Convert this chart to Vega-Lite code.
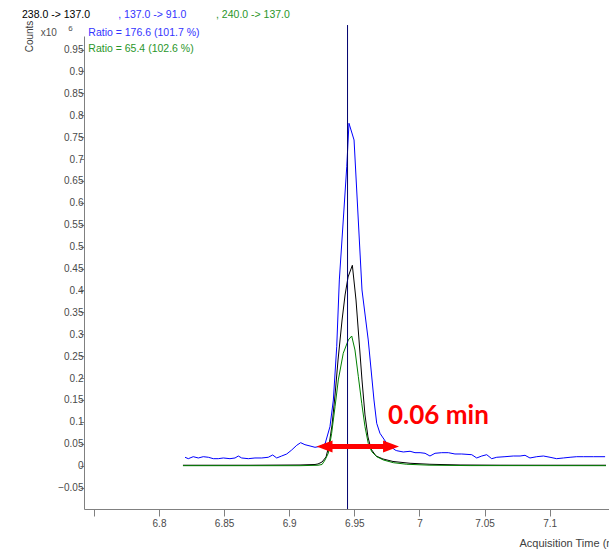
{
  "$schema": "https://vega.github.io/schema/vega-lite/v6.json",
  "autosize": {"type": "none"},
  "padding": {"left": 84, "top": 36, "right": 0, "bottom": 42},
  "width": 525,
  "height": 473,
  "background": "white",
  "config": {
    "view": {"stroke": null},
    "font": "Liberation Sans",
    "axis": {
      "grid": false,
      "domainColor": "#808080",
      "tickColor": "#808080",
      "labelColor": "#4a4a4a",
      "labelFont": "Liberation Sans",
      "labelFontSize": 10,
      "titleFont": "Liberation Sans",
      "titleFontSize": 10,
      "titleFontWeight": "normal",
      "titleColor": "#404040",
      "labelFlush": false,
      "labelOverlap": false
    }
  },
  "datasets": {
    "black": [
      {"t": 6.8184, "v": 0.001}, {"t": 6.8699, "v": 0.001}, {"t": 6.9083, "v": 0.0016},
      {"t": 6.9198, "v": 0.0027}, {"t": 6.9221, "v": 0.0039}, {"t": 6.9252, "v": 0.0084},
      {"t": 6.9283, "v": 0.0199}, {"t": 6.9306, "v": 0.0473}, {"t": 6.9329, "v": 0.0929},
      {"t": 6.9352, "v": 0.1614}, {"t": 6.9375, "v": 0.2413}, {"t": 6.9406, "v": 0.3326},
      {"t": 6.9429, "v": 0.3897}, {"t": 6.9452, "v": 0.4308}, {"t": 6.9485, "v": 0.4575},
      {"t": 6.9513, "v": 0.3783}, {"t": 6.9536, "v": 0.287}, {"t": 6.9559, "v": 0.1957},
      {"t": 6.9582, "v": 0.1158}, {"t": 6.9605, "v": 0.0655}, {"t": 6.9628, "v": 0.0381},
      {"t": 6.9667, "v": 0.0221}, {"t": 6.972, "v": 0.0153}, {"t": 6.9797, "v": 0.0096},
      {"t": 6.9928, "v": 0.0055}, {"t": 7.0081, "v": 0.0032}, {"t": 7.0312, "v": 0.0016},
      {"t": 7.0619, "v": 0.0011}, {"t": 7.1003, "v": 0.001}, {"t": 7.1433, "v": 0.001}
    ],
    "green": [
      {"t": 6.8184, "v": 0.0}, {"t": 6.9083, "v": 0.0}, {"t": 6.9221, "v": 0.001},
      {"t": 6.9252, "v": 0.0027}, {"t": 6.9275, "v": 0.013}, {"t": 6.93, "v": 0.0283},
      {"t": 6.9326, "v": 0.074}, {"t": 6.9352, "v": 0.1347}, {"t": 6.9377, "v": 0.1957},
      {"t": 6.9415, "v": 0.2566}, {"t": 6.9454, "v": 0.287}, {"t": 6.948, "v": 0.2961},
      {"t": 6.9505, "v": 0.2642}, {"t": 6.9531, "v": 0.2032}, {"t": 6.9557, "v": 0.1425},
      {"t": 6.9582, "v": 0.089}, {"t": 6.9607, "v": 0.0511}, {"t": 6.9634, "v": 0.032},
      {"t": 6.9672, "v": 0.0205}, {"t": 6.9723, "v": 0.013}, {"t": 6.98, "v": 0.0068},
      {"t": 6.9903, "v": 0.0032}, {"t": 7.0081, "v": 0.0011}, {"t": 7.0389, "v": 0.0002},
      {"t": 7.1433, "v": 0.0}
    ],
    "blue": [
      {"t": 6.82, "v": 0.0192}, {"t": 6.8225, "v": 0.016}, {"t": 6.8263, "v": 0.0205},
      {"t": 6.8302, "v": 0.0176}, {"t": 6.834, "v": 0.0205}, {"t": 6.8379, "v": 0.0192},
      {"t": 6.8417, "v": 0.016}, {"t": 6.8455, "v": 0.016}, {"t": 6.8494, "v": 0.0176},
      {"t": 6.8545, "v": 0.016}, {"t": 6.8584, "v": 0.0176}, {"t": 6.8609, "v": 0.0221},
      {"t": 6.8635, "v": 0.0176}, {"t": 6.8686, "v": 0.016}, {"t": 6.8737, "v": 0.0176},
      {"t": 6.8789, "v": 0.0176}, {"t": 6.8839, "v": 0.0192}, {"t": 6.8873, "v": 0.0244},
      {"t": 6.8904, "v": 0.0176}, {"t": 6.8942, "v": 0.0221}, {"t": 6.8981, "v": 0.0267},
      {"t": 6.9019, "v": 0.0358}, {"t": 6.9058, "v": 0.0466}, {"t": 6.9088, "v": 0.0525},
      {"t": 6.9121, "v": 0.0479}, {"t": 6.916, "v": 0.045}, {"t": 6.9198, "v": 0.042},
      {"t": 6.9237, "v": 0.044}, {"t": 6.9275, "v": 0.0495}, {"t": 6.9313, "v": 0.089},
      {"t": 6.9339, "v": 0.15}, {"t": 6.9365, "v": 0.2717}, {"t": 6.9385, "v": 0.424},
      {"t": 6.9442, "v": 0.6826}, {"t": 6.9459, "v": 0.7817}, {"t": 6.9498, "v": 0.7436},
      {"t": 6.9559, "v": 0.4011}, {"t": 6.9607, "v": 0.287}, {"t": 6.9651, "v": 0.15},
      {"t": 6.9672, "v": 0.0968}, {"t": 6.9697, "v": 0.074}, {"t": 6.9749, "v": 0.0511},
      {"t": 6.9813, "v": 0.0358}, {"t": 6.9826, "v": 0.0342}, {"t": 6.9876, "v": 0.0313},
      {"t": 6.9928, "v": 0.0329}, {"t": 6.9966, "v": 0.0297}, {"t": 7.0005, "v": 0.0297},
      {"t": 7.0043, "v": 0.0283}, {"t": 7.0081, "v": 0.0221}, {"t": 7.012, "v": 0.0283},
      {"t": 7.0171, "v": 0.0297}, {"t": 7.0222, "v": 0.0297}, {"t": 7.0273, "v": 0.0267},
      {"t": 7.0325, "v": 0.0267}, {"t": 7.0402, "v": 0.0251}, {"t": 7.044, "v": 0.0176},
      {"t": 7.0479, "v": 0.0221}, {"t": 7.0517, "v": 0.0251}, {"t": 7.0555, "v": 0.016},
      {"t": 7.0594, "v": 0.0192}, {"t": 7.0657, "v": 0.0205}, {"t": 7.0721, "v": 0.0221},
      {"t": 7.0773, "v": 0.0221}, {"t": 7.0811, "v": 0.0237}, {"t": 7.0849, "v": 0.0176},
      {"t": 7.0901, "v": 0.0205}, {"t": 7.0952, "v": 0.0221}, {"t": 7.1003, "v": 0.0192},
      {"t": 7.1054, "v": 0.016}, {"t": 7.1105, "v": 0.0176}, {"t": 7.1157, "v": 0.0192},
      {"t": 7.1208, "v": 0.0205}, {"t": 7.1259, "v": 0.0205}, {"t": 7.1336, "v": 0.0205},
      {"t": 7.1426, "v": 0.0205}
    ],
    "apex": [{"t": 6.9448, "v": 1.006, "v2": -0.099}],
    "span": [{"t": 6.9275, "t2": 6.9775, "v": 0.0438}],
    "headLeft": [{"t": 6.9271, "v": 0.0438}],
    "headRight": [{"t": 6.9782, "v": 0.0438}],
    "widthLabel": [{"t": 6.9759, "v": 0.1135, "s": "0.06 min"}],
    "labelsBlack": [{"t": 6.6948, "v": 1.029, "s": "238.0 -> 137.0"}],
    "labelsBlue": [
      {"t": 6.7687, "v": 1.029, "s": ", 137.0 -> 91.0"},
      {"t": 6.7457, "v": 0.9872, "s": "Ratio = 176.6 (101.7 %)"}
    ],
    "labelsGreen": [
      {"t": 6.8438, "v": 1.029, "s": ", 240.0 -> 137.0"},
      {"t": 6.7457, "v": 0.9514, "s": "Ratio = 65.4 (102.6 %)"}
    ],
    "scaleBase": [{"t": 6.7091, "v": 0.9886, "s": "x10"}],
    "scaleExp": [{"t": 6.7303, "v": 0.997, "s": "6"}]
  },
  "encoding": {
    "x": {
      "field": "t",
      "type": "quantitative",
      "scale": {"domain": [6.7424, 7.1456], "nice": false, "zero": false},
      "axis": {
        "values": [6.75, 6.8, 6.85, 6.9, 6.95, 7, 7.05, 7.1],
        "format": "~g",
        "labelExpr": "datum.value < 6.76 ? '' : datum.label",
        "tickSize": 7,
        "labelPadding": 2,
        "title": "Acquisition Time (min)",
        "titleFontSize": 11,
        "titleX": 435,
        "titleY": 34,
        "titleAlign": "left",
        "titleBaseline": "middle"
      }
    },
    "y": {
      "field": "v",
      "type": "quantitative",
      "scale": {"domain": [-0.0989, 0.981], "nice": false, "zero": false},
      "axis": {
        "values": [-0.05, 0, 0.05, 0.1, 0.15, 0.2, 0.25, 0.3, 0.35, 0.4, 0.45, 0.5, 0.55, 0.6, 0.65, 0.7, 0.75, 0.8, 0.85, 0.9, 0.95],
        "format": "~g",
        "tickSize": 4,
        "labelPadding": -3,
        "title": "Counts",
        "titleX": -55,
        "titleY": 0,
        "titleAngle": 270,
        "titleAlign": "center",
        "titleBaseline": "middle"
      }
    }
  },
  "layer": [
    {"data": {"name": "black"}, "mark": {"type": "line", "color": "#000000", "strokeWidth": 1}},
    {"data": {"name": "green"}, "mark": {"type": "line", "color": "#008000", "strokeWidth": 1}},
    {"data": {"name": "blue"}, "mark": {"type": "line", "color": "#0000ff", "strokeWidth": 1}},
    {
      "data": {"name": "apex"},
      "mark": {"type": "rule", "color": "#00006e", "strokeWidth": 1},
      "encoding": {"y2": {"field": "v2"}}
    },
    {
      "data": {"name": "span"},
      "mark": {"type": "rule", "color": "#ff0000", "strokeWidth": 5},
      "encoding": {"x2": {"field": "t2"}}
    },
    {
      "data": {"name": "headLeft"},
      "mark": {"type": "point", "shape": "M-1,0L1,-0.75L1,0.75Z", "size": 256, "filled": true, "color": "#ff0000", "opacity": 1}
    },
    {
      "data": {"name": "headRight"},
      "mark": {"type": "point", "shape": "M1,0L-1,-0.75L-1,0.75Z", "size": 256, "filled": true, "color": "#ff0000", "opacity": 1}
    },
    {
      "data": {"name": "widthLabel"},
      "mark": {"type": "text", "align": "left", "baseline": "middle", "font": "Lato", "fontWeight": "bold", "fontSize": 26, "color": "#ff0000"},
      "encoding": {"text": {"field": "s"}}
    },
    {
      "data": {"name": "labelsBlack"},
      "mark": {"type": "text", "align": "left", "baseline": "middle", "fontSize": 10.5, "color": "#000000"},
      "encoding": {"text": {"field": "s"}}
    },
    {
      "data": {"name": "labelsBlue"},
      "mark": {"type": "text", "align": "left", "baseline": "middle", "fontSize": 10.5, "color": "#3333ff"},
      "encoding": {"text": {"field": "s"}}
    },
    {
      "data": {"name": "labelsGreen"},
      "mark": {"type": "text", "align": "left", "baseline": "middle", "fontSize": 10.5, "color": "#2a962a"},
      "encoding": {"text": {"field": "s"}}
    },
    {
      "data": {"name": "scaleBase"},
      "mark": {"type": "text", "align": "left", "baseline": "middle", "fontSize": 10, "color": "#505050"},
      "encoding": {"text": {"field": "s"}}
    },
    {
      "data": {"name": "scaleExp"},
      "mark": {"type": "text", "align": "left", "baseline": "middle", "fontSize": 8, "color": "#505050"},
      "encoding": {"text": {"field": "s"}}
    }
  ]
}
